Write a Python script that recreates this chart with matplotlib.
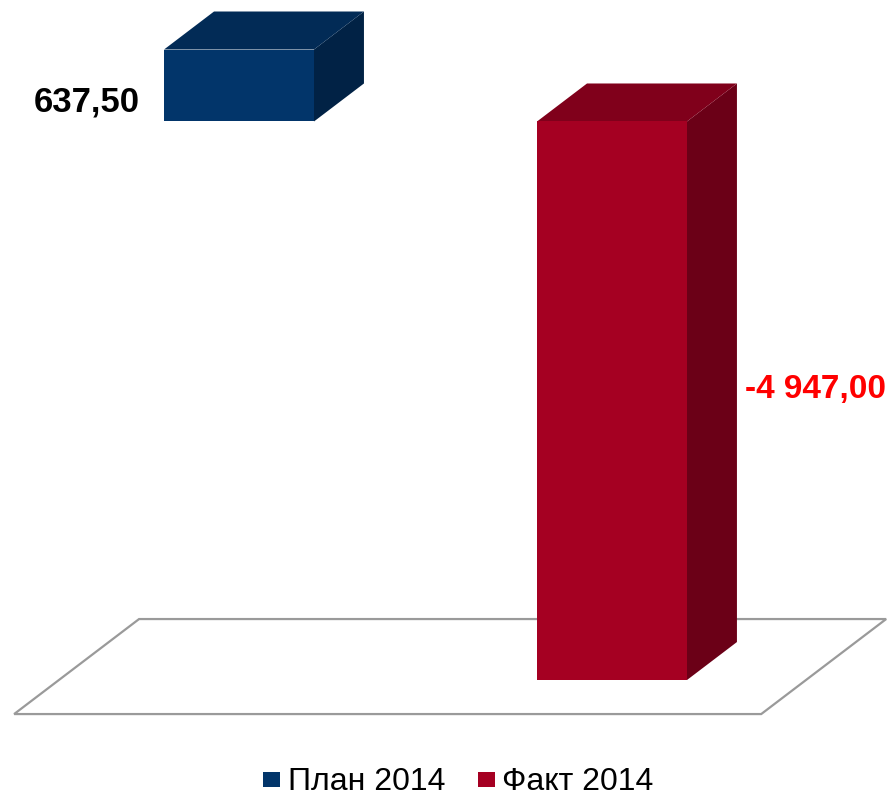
import matplotlib
matplotlib.use('Agg')
import matplotlib.pyplot as plt
from matplotlib.patches import Polygon, Rectangle

plt.rcParams['font.family'] = ['Liberation Sans', 'DejaVu Sans']

# data
series = ['План 2014', 'Факт 2014']
values = [637.50, -4947.00]
value_labels = ['637,50', '-4 947,00']

# colours: front, top, side
front_colors = ['#02356a', '#a50022']
top_colors = ['#022b56', '#80001b']
side_colors = ['#012245', '#6b0017']
label_colors = ['black', '#ff0000']

fig = plt.figure(figsize=(8.93, 7.96), dpi=100)
ax = fig.add_axes([0, 0, 1, 1])
ax.set_xlim(-0.6408, 1.7534)
ax.set_ylim(-5974, 1076)
ax.axis('off')

width = 0.402
dx, dy = 0.134, 336.6   # depth of a bar (fake 3d)
floor = min(0, min(values))

# floor plate
fl, fr = -0.483, 1.520
d0, d1 = -0.895, 1.605
floor_pts = [(fl + dx * d0, floor + dy * d0), (fr + dx * d0, floor + dy * d0),
             (fr + dx * d1, floor + dy * d1), (fl + dx * d1, floor + dy * d1)]
ax.add_patch(Polygon(floor_pts, closed=True, facecolor='white',
                     edgecolor='#9a9a9a', lw=1.6, zorder=1))

for i, v in enumerate(values):
    x0, x1 = i - width / 2, i + width / 2
    bot, top = min(0, v), max(0, v)
    side = [(x1, bot), (x1 + dx, bot + dy), (x1 + dx, top + dy), (x1, top)]
    ax.add_patch(Polygon(side, closed=True, facecolor=side_colors[i],
                         edgecolor='none', zorder=2))
    topf = [(x0, top), (x1, top), (x1 + dx, top + dy), (x0 + dx, top + dy)]
    ax.add_patch(Polygon(topf, closed=True, facecolor=top_colors[i],
                         edgecolor='none', zorder=2))
    ax.bar(i, v, width, color=front_colors[i], zorder=3)

    if v > 0:
        ax.annotate(value_labels[i], xy=(x0, 0), xytext=(-24, 10),
                    textcoords='offset pixels', ha='right', va='baseline',
                    fontsize=25, fontweight='bold', color=label_colors[i])
    else:
        ax.annotate(value_labels[i], xy=(x1 + dx, v / 2 + dy / 2), xytext=(8, -8),
                    textcoords='offset pixels', ha='left', va='center',
                    fontsize=24, fontweight='bold', color=label_colors[i])

# legend drawn by hand at the bottom
W, H = 893, 796
base = 790
sq_x = [263, 478]
txt_x = [288, 502]
for i, name in enumerate(series):
    fig.patches.append(Rectangle((sq_x[i] / W, (H - base + 3) / H), 17 / W, 15 / H,
                                 transform=fig.transFigure, facecolor=front_colors[i],
                                 edgecolor='none'))
    fig.text(txt_x[i] / W, (H - base) / H, name, fontsize=23, ha='left',
             va='baseline', color='black')

fig.savefig('out.png', dpi=100)
